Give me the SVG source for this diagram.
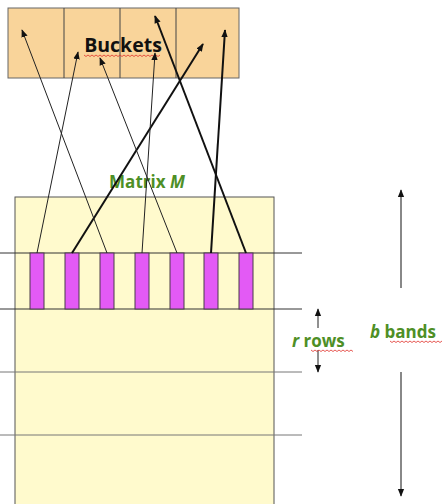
<svg xmlns="http://www.w3.org/2000/svg" width="446" height="504" viewBox="0 0 446 504">
  <style>
    .bucket { fill: #F9D49A; stroke: #666; stroke-width: 1; }
    .divider { stroke: #444; stroke-width: 1; }
    .matrix { fill: #FFFACD; stroke: #555; stroke-width: 1; }
    .band { stroke-width: 1; }
    .band-dark { stroke: #333; }
    .band-light { stroke: #777; }
    .sig { fill: #E35AF5; stroke: #4a3a4a; stroke-width: 1; }
    .link { fill: none; stroke: #222; stroke-width: 1; marker-end: url(#head); }
    .link-bold { fill: none; stroke: #111; stroke-width: 2; marker-end: url(#head); }
    .dim { fill: none; stroke: #888; stroke-width: 2; marker-end: url(#dimhead); }
    .dim-thin { fill: none; stroke: #222; stroke-width: 1; marker-end: url(#dimhead); }
    .title { font-family: "Open Sans", "Liberation Sans", sans-serif; font-weight: bold; fill: #111; }
    .green { font-family: "Open Sans", "Liberation Sans", sans-serif; font-weight: bold; fill: #4E8F26; }
    .squiggle { fill: none; stroke: #E0302A; stroke-width: 0.8; }
  </style>
  <defs>
    <marker id="head" viewBox="0 0 10 10" refX="9" refY="5" markerWidth="8" markerHeight="8" markerUnits="userSpaceOnUse" orient="auto">
      <path d="M0,1 L10,5 L0,9 z" fill="#111"/>
    </marker>
    <marker id="dimhead" viewBox="0 0 10 10" refX="9" refY="5" markerWidth="8" markerHeight="8" markerUnits="userSpaceOnUse" orient="auto">
      <path d="M0,1 L10,5 L0,9 z" fill="#111"/>
    </marker>
  </defs>

  <!-- bucket array -->
  <g id="buckets">
    <rect class="bucket" x="8" y="8" width="231" height="70"/>
    <line class="divider" x1="64" y1="8" x2="64" y2="78"/>
    <line class="divider" x1="120" y1="8" x2="120" y2="78"/>
    <line class="divider" x1="176" y1="8" x2="176" y2="78"/>
    <text class="title" x="123" y="52" font-size="19.5" text-anchor="middle">Buckets</text>
    <path class="squiggle" d="M84,55 l2,1.5 l2,-1.5 l2,1.5 l2,-1.5 l2,1.5 l2,-1.5 l2,1.5 l2,-1.5 l2,1.5 l2,-1.5 l2,1.5 l2,-1.5 l2,1.5 l2,-1.5 l2,1.5 l2,-1.5 l2,1.5 l2,-1.5 l2,1.5 l2,-1.5 l2,1.5 l2,-1.5 l2,1.5 l2,-1.5 l2,1.5 l2,-1.5 l2,1.5 l2,-1.5 l2,1.5 l2,-1.5 l2,1.5 l2,-1.5 l2,1.5 l2,-1.5 l2,1.5 l2,-1.5 l2,1.5 l2,-1.5"/>
  </g>

  <!-- signature matrix -->
  <g id="matrix">
    <rect class="matrix" x="15" y="197" width="259" height="320"/>
    <text class="green" x="147" y="188" font-size="17" text-anchor="middle">Matrix <tspan font-style="italic">M</tspan></text>
  </g>

  <!-- band boundaries -->
  <g id="bands">
    <line class="band band-dark" x1="0" y1="253" x2="302" y2="253"/>
    <line class="band band-dark" x1="0" y1="309" x2="302" y2="309"/>
    <line class="band band-light" x1="0" y1="372" x2="302" y2="372"/>
    <line class="band band-light" x1="0" y1="435" x2="302" y2="435"/>
  </g>

  <!-- column slices of one band -->
  <g id="columns">
    <rect class="sig" x="30" y="253" width="14" height="56"/>
    <rect class="sig" x="65" y="253" width="14" height="56"/>
    <rect class="sig" x="100" y="253" width="14" height="56"/>
    <rect class="sig" x="135" y="253" width="14" height="56"/>
    <rect class="sig" x="170" y="253" width="14" height="56"/>
    <rect class="sig" x="204" y="253" width="14" height="56"/>
    <rect class="sig" x="239" y="253" width="14" height="56"/>
  </g>

  <!-- hashing of each column into a bucket -->
  <g id="connectors">
    <line class="link" x1="37" y1="253" x2="78" y2="52"/>
    <line class="link-bold" x1="72" y1="253" x2="203" y2="44"/>
    <line class="link" x1="107" y1="253" x2="22" y2="30"/>
    <line class="link" x1="142" y1="253" x2="155" y2="53"/>
    <line class="link" x1="177" y1="253" x2="100" y2="58"/>
    <line class="link-bold" x1="211" y1="253" x2="225" y2="30"/>
    <line class="link-bold" x1="246" y1="253" x2="155" y2="16"/>

    <line class="dim-thin" x1="318" y1="328" x2="318" y2="309"/>
    <line class="dim-thin" x1="318" y1="350" x2="318" y2="372"/>
    <line class="dim" x1="401" y1="288" x2="401" y2="190"/>
    <line class="dim" x1="401" y1="372" x2="401" y2="496"/>
  </g>

  <!-- dimension labels -->
  <g id="labels">
    <text class="green" x="292" y="347" font-size="17"><tspan font-style="italic">r</tspan> rows</text>
    <path class="squiggle" d="M311,350 l2,1.5 l2,-1.5 l2,1.5 l2,-1.5 l2,1.5 l2,-1.5 l2,1.5 l2,-1.5 l2,1.5 l2,-1.5 l2,1.5 l2,-1.5 l2,1.5 l2,-1.5 l2,1.5 l2,-1.5 l2,1.5 l2,-1.5 l2,1.5 l2,-1.5 l2,1.5"/>
    <text class="green" x="370" y="338" font-size="17"><tspan font-style="italic">b</tspan> bands</text>
    <path class="squiggle" d="M390,341 l2,1.5 l2,-1.5 l2,1.5 l2,-1.5 l2,1.5 l2,-1.5 l2,1.5 l2,-1.5 l2,1.5 l2,-1.5 l2,1.5 l2,-1.5 l2,1.5 l2,-1.5 l2,1.5 l2,-1.5 l2,1.5 l2,-1.5 l2,1.5 l2,-1.5 l2,1.5 l2,-1.5 l2,1.5 l2,-1.5 l2,1.5 l2,-1.5"/>
  </g>
</svg>
